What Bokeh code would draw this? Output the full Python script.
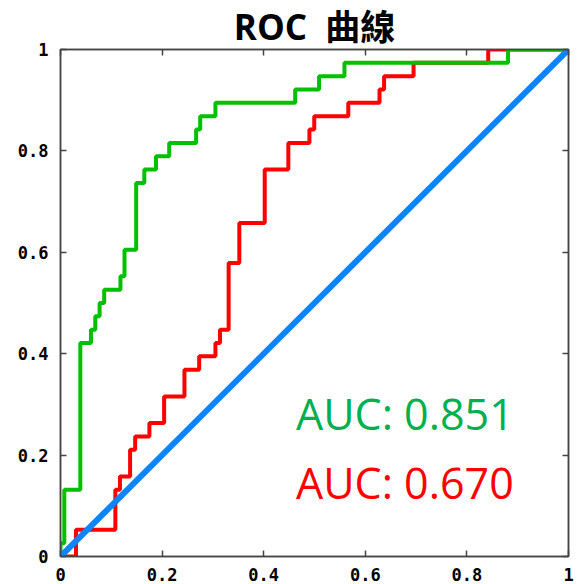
from bokeh.plotting import figure
from bokeh.models import Range1d, LinearAxis, FixedTicker, Label, CustomLabelingPolicy
from bokeh.embed import file_html
from bokeh.resources import INLINE

# ---- data ----
TICKS = [0, 0.2, 0.4, 0.6, 0.8, 1]
TICK_LABELS = ["0", "0.2", "0.4", "0.6", "0.8", "1"]

# green ROC (AUC 0.851): left end of each horizontal run
green_fpr = [0, 0, 0.0075, 0.039, 0.060, 0.0685, 0.077, 0.086, 0.118, 0.126,
             0.149, 0.165, 0.188, 0.214, 0.267, 0.275, 0.305, 0.462, 0.509,
             0.559, 0.881, 1]
green_tpr = [0, 1/38, 5/38, 16/38, 17/38, 18/38, 19/38, 20/38, 21/38, 23/38,
             28/38, 29/38, 30/38, 31/38, 32/38, 33/38, 34/38, 35/38, 36/38,
             37/38, 1, 1]

# red ROC (AUC 0.670)
red_fpr = [0, 0.0305, 0.108, 0.117, 0.137, 0.147, 0.175, 0.204, 0.244, 0.273,
           0.305, 0.314, 0.331, 0.352, 0.402, 0.4485, 0.490, 0.4995, 0.5665,
           0.628, 0.637, 0.695, 0.842, 1]
red_tpr = [0, 2/38, 5/38, 6/38, 8/38, 9/38, 10/38, 12/38, 14/38, 15/38,
           16/38, 17/38, 22/38, 25/38, 29/38, 31/38, 32/38, 33/38, 34/38,
           35/38, 36/38, 37/38, 1, 1]

# chance diagonal
diag_x = [0, 1]
diag_y = [0, 1]

AUC_GREEN = "AUC: 0.851"
AUC_RED = "AUC: 0.670"
TITLE = "ROC\u00a0\u00a0曲線"

# ---- figure ----
p = figure(width=579, height=584, x_range=Range1d(0, 1), y_range=Range1d(0, 1),
           output_backend="svg", toolbar_location=None,
           min_border_left=60, min_border_right=11, min_border_top=49,
           min_border_bottom=28)
p.grid.visible = False
p.outline_line_color = "#444444"
p.outline_line_width = 1.5

p.title.text = TITLE
p.title.text_font = "'Open Sans', 'Noto Sans CJK TC'"
p.title.text_font_style = "bold"
p.title.text_font_size = "35px"
p.title.align = "center"
p.title.standoff = 0
p.title.text_color = "#000000"

overrides = {t: l for t, l in zip(TICKS, TICK_LABELS)}

def style_axis(ax, labels=True):
    ax.ticker = FixedTicker(ticks=TICKS)
    ax.major_tick_in = 6
    ax.major_tick_out = 0
    ax.minor_tick_line_color = None
    ax.axis_line_color = "#444444"
    ax.axis_line_width = 1.5
    ax.major_tick_line_color = "#444444"
    ax.major_tick_line_width = 1.5
    if labels:
        ax.major_label_overrides = overrides
        ax.major_label_text_font = "DejaVu Sans Mono"
        ax.major_label_text_font_style = "bold"
        ax.major_label_text_font_size = "17px"
        ax.major_label_text_color = "#000000"
    else:
        ax.major_label_policy = CustomLabelingPolicy(code="return []")
        ax.major_label_text_font_size = "0px"
        ax.major_label_standoff = 0

style_axis(p.xaxis[0])
style_axis(p.yaxis[0])
p.xaxis[0].major_label_standoff = 11
p.yaxis[0].major_label_standoff = 12

top_ax = LinearAxis()
right_ax = LinearAxis()
style_axis(top_ax, labels=False)
style_axis(right_ax, labels=False)
p.add_layout(top_ax, "above")
p.add_layout(right_ax, "right")

p.step(red_fpr, red_tpr, mode="after", line_color="#FF0000", line_width=4)
p.step(green_fpr, green_tpr, mode="after", line_color="#00C000", line_width=4)
p.line(diag_x, diag_y, line_color="#0A84FF", line_width=6)

p.add_layout(Label(x=0.4636, y=0.283, text=AUC_GREEN, text_font="Open Sans",
                   text_font_size="43px", text_color="#00B050",
                   text_baseline="alphabetic"))
p.add_layout(Label(x=0.4636, y=0.145, text=AUC_RED, text_font="Open Sans",
                   text_font_size="43px", text_color="#FF0000",
                   text_baseline="alphabetic"))

open("out.html", "w").write(file_html(p, INLINE))
